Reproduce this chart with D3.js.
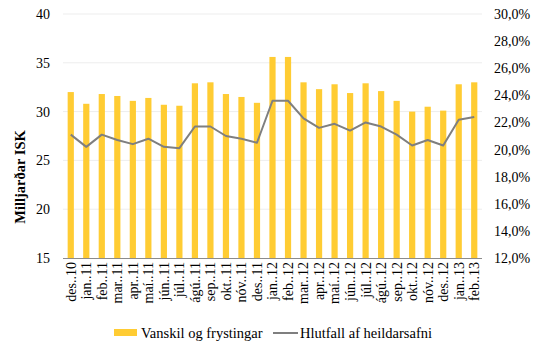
<!DOCTYPE html>
<html>
<head>
<meta charset="utf-8">
<script src="https://cdn.jsdelivr.net/npm/d3@7"></script>
<style>
  html, body { margin: 0; padding: 0; background: #fff; }
  svg, svg text { font-family: "Liberation Serif", "Times New Roman", "DejaVu Serif", serif; }
</style>
</head>
<body>
<svg id="chart" width="535" height="344"></svg>
<script>
// Monthly categories, Dec 2010 – Feb 2013
const months = [
  "des..10", "jan..11", "feb..11", "mar..11", "apr..11", "maí..11", "jún..11", "júl..11",
  "ágú..11", "sep..11", "okt..11", "nóv..11", "des..11", "jan..12", "feb..12", "mar..12",
  "apr..12", "maí..12", "jún..12", "júl..12", "ágú..12", "sep..12", "okt..12", "nóv..12",
  "des..12", "jan..13", "feb..13"
];
// Defaults and forbearance, billions ISK (left axis)
const vanskil = [
  32.0, 30.8, 31.8, 31.6, 31.1, 31.4, 30.7, 30.6, 32.9, 33.0, 31.8, 31.5, 30.9, 35.6,
  35.6, 33.0, 32.3, 32.8, 31.9, 32.9, 32.1, 31.1, 30.0, 30.5, 30.1, 32.8, 33.0
];
// Share of total portfolio, % (right axis)
const hlutfall = [
  21.1, 20.2, 21.1, 20.7, 20.4, 20.8, 20.2, 20.1, 21.7, 21.7, 21.0, 20.8, 20.5, 23.6,
  23.6, 22.3, 21.6, 21.9, 21.4, 22.0, 21.7, 21.1, 20.3, 20.7, 20.3, 22.2, 22.4
];
const leftTicks = [15, 20, 25, 30, 35, 40];
const rightTicks = [12, 14, 16, 18, 20, 22, 24, 26, 28, 30];
const seriesNames = ["Vanskil og frystingar", "Hlutfall af heildarsafni"];
const yTitle = "Milljarðar ISK";

const barColor = "#FFCC33";
const lineColor = "#7F7F7F";
const serif = '"Liberation Serif", "Times New Roman", "DejaVu Serif", serif';
const fontSize = 14;

const svg = d3.select("#chart");
const plot = { left: 63, right: 482, top: 14, bottom: 258 };

const x = d3.scaleBand()
  .domain(months)
  .range([plot.left, plot.right])
  .paddingInner(0.6)
  .paddingOuter(0.3);

const yL = d3.scaleLinear().domain([15, 40]).range([plot.bottom, plot.top]);
const yR = d3.scaleLinear().domain([12, 30]).range([plot.bottom, plot.top]);

// Horizontal gridlines
svg.append("g")
  .selectAll("line")
  .data(leftTicks.filter(t => t > 15))
  .join("line")
  .attr("x1", plot.left).attr("x2", plot.right)
  .attr("y1", d => yL(d)).attr("y2", d => yL(d))
  .attr("stroke", "#EDEDED").attr("stroke-width", 1);

// Bars
svg.append("g")
  .selectAll("rect")
  .data(months)
  .join("rect")
  .attr("x", d => x(d))
  .attr("width", x.bandwidth())
  .attr("y", (d, i) => yL(vanskil[i]))
  .attr("height", (d, i) => yL(15) - yL(vanskil[i]))
  .attr("fill", barColor);

// Category axis baseline
svg.append("line")
  .attr("x1", plot.left).attr("x2", plot.right)
  .attr("y1", plot.bottom + 0.5).attr("y2", plot.bottom + 0.5)
  .attr("stroke", "#8C8C8C").attr("stroke-width", 1);

// Ratio line
const line = d3.line()
  .x((d, i) => x(months[i]) + x.bandwidth() / 2)
  .y(d => yR(d));
svg.append("path")
  .datum(hlutfall)
  .attr("d", line)
  .attr("fill", "none")
  .attr("stroke", lineColor)
  .attr("stroke-width", 2)
  .attr("stroke-linejoin", "round");

// Left axis labels
const axisL = d3.axisLeft(yL).tickValues(leftTicks).tickSize(0).tickPadding(0);
const gL = svg.append("g").attr("transform", `translate(${plot.left - 13},0)`).call(axisL)
  .attr("font-family", serif).attr("font-size", fontSize);
gL.select(".domain").remove();
gL.selectAll("text").attr("font-family", serif).attr("font-size", fontSize).attr("fill", "#000");

// Right axis labels
const axisR = d3.axisRight(yR).tickValues(rightTicks).tickSize(0).tickPadding(0)
  .tickFormat(d => d.toFixed(1).replace(".", ",") + "%");
const gR = svg.append("g").attr("transform", `translate(${plot.right + 12},0)`).call(axisR)
  .attr("font-family", serif).attr("font-size", fontSize);
gR.select(".domain").remove();
gR.selectAll("text").attr("font-family", serif).attr("font-size", fontSize).attr("fill", "#000");

// Rotated month labels
svg.append("g")
  .attr("font-family", serif)
  .selectAll("text")
  .data(months)
  .join("text")
  .attr("transform", d => `translate(${x(d) + x.bandwidth() / 2},${plot.bottom + 4}) rotate(-90)`)
  .attr("text-anchor", "end")
  .attr("dy", "0.35em")
  .attr("font-family", serif)
  .attr("font-size", fontSize)
  .attr("fill", "#000")
  .text(d => d);

// Left axis title
svg.append("text")
  .attr("transform", "translate(20,177) rotate(-90)")
  .attr("text-anchor", "middle")
  .attr("dy", "0.35em")
  .attr("font-family", serif)
  .attr("font-size", 14.5)
  .attr("font-weight", "bold")
  .attr("fill", "#000")
  .text(yTitle);

// Legend
const lg = svg.append("g").attr("font-family", serif);
lg.append("rect").attr("x", 114).attr("y", 329).attr("width", 23).attr("height", 7).attr("fill", barColor);
lg.append("text").attr("x", 141).attr("y", 337.5).attr("font-family", serif).attr("font-size", 14.5)
  .attr("fill", "#000").text(seriesNames[0]);
lg.append("line").attr("x1", 273).attr("x2", 298).attr("y1", 333).attr("y2", 333)
  .attr("stroke", lineColor).attr("stroke-width", 2);
lg.append("text").attr("x", 300).attr("y", 337.5).attr("font-family", serif).attr("font-size", 14.5)
  .attr("fill", "#000").text(seriesNames[1]);
</script>
</body>
</html>
